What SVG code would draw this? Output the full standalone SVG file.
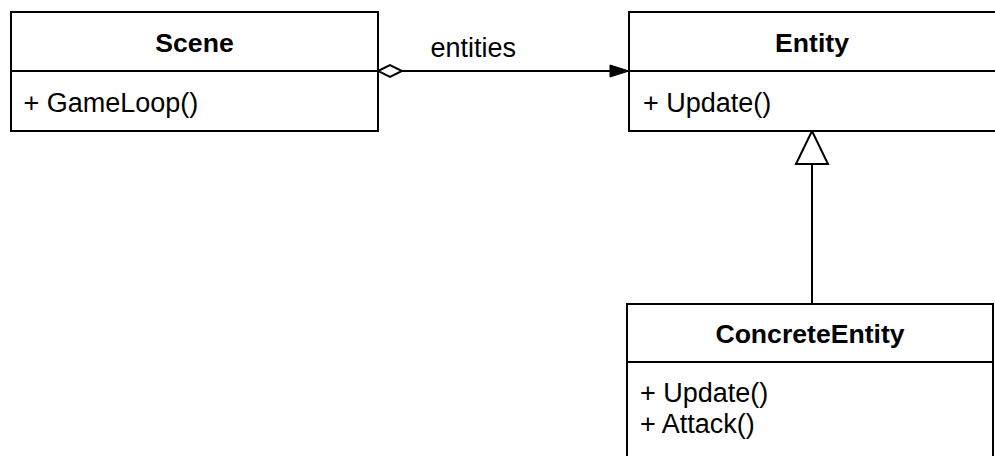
<svg xmlns="http://www.w3.org/2000/svg" width="995" height="456" viewBox="0 0 995 456">
<style>
.box{fill:#fff;stroke:#000;stroke-width:2}
.div{stroke:#000;stroke-width:2}
.title{font-family:"Liberation Sans",Arial,sans-serif;font-size:26.6px;font-weight:bold;fill:#000;text-anchor:middle}
.member{font-family:"Liberation Sans",Arial,sans-serif;font-size:27px;fill:#000}
.edge{stroke:#000;stroke-width:2;fill:none}
</style>
<defs>
<marker id="diamond" markerUnits="userSpaceOnUse" markerWidth="28" markerHeight="16" refX="1" refY="8" orient="auto">
<path d="M1,8 L13,2 L25,8 L13,14 Z" fill="#fff" stroke="#000" stroke-width="2"/>
</marker>
<marker id="arrow" markerUnits="userSpaceOnUse" markerWidth="22" markerHeight="16" refX="20" refY="8" orient="auto">
<path d="M1,2 L20,8 L1,14 Z" fill="#000" stroke="#000" stroke-width="1"/>
</marker>
<marker id="tri" markerUnits="userSpaceOnUse" markerWidth="36" markerHeight="36" refX="34" refY="18" orient="auto">
<path d="M1,2 L34,18 L1,34 Z" fill="#fff" stroke="#000" stroke-width="2"/>
</marker>
</defs>
<g id="connectors">
<line class="edge" x1="378" y1="71" x2="629" y2="71" marker-start="url(#diamond)" marker-end="url(#arrow)"/>
<text class="member" x="430.5" y="57">entities</text>
<line class="edge" x1="812" y1="304" x2="812" y2="131" marker-end="url(#tri)"/>
</g>
<g id="Scene">
<rect class="box" x="11" y="12" width="367" height="119"/>
<line class="div" x1="11" y1="71" x2="378" y2="71"/>
<text class="title" x="194.5" y="52">Scene</text>
<text class="member" x="23.5" y="112">+ GameLoop()</text>
</g>
<g id="Entity">
<rect class="box" x="629" y="12" width="370" height="119"/>
<line class="div" x1="629" y1="71" x2="999" y2="71"/>
<text class="title" x="812" y="52">Entity</text>
<text class="member" x="643" y="112">+ Update()</text>
</g>
<g id="ConcreteEntity">
<rect class="box" x="627" y="304" width="366" height="160"/>
<line class="div" x1="627" y1="362" x2="993" y2="362"/>
<text class="title" x="810" y="343">ConcreteEntity</text>
<text class="member" x="640" y="402">+ Update()</text>
<text class="member" x="640" y="433">+ Attack()</text>
</g>
</svg>
